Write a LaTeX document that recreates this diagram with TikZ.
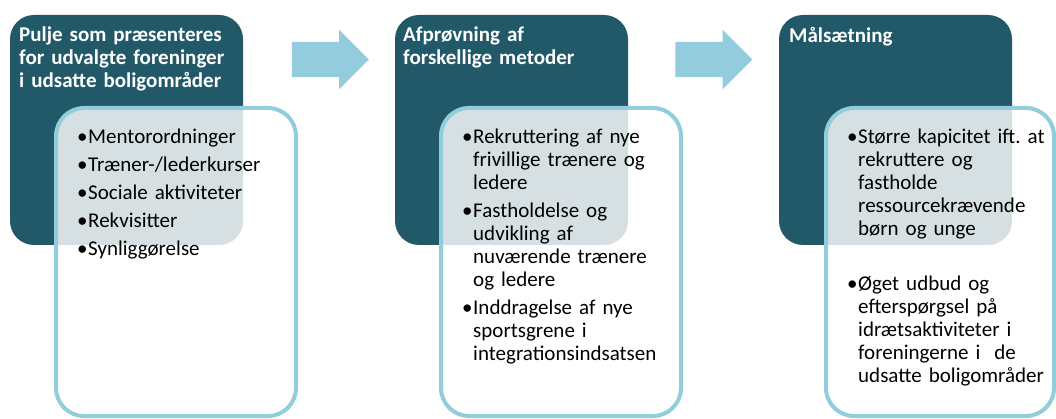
\documentclass[tikz,border=0pt]{standalone}
\usepackage{fontspec}
\setmainfont{Carlito}
\usepackage{tikz}
\usetikzlibrary{shapes.arrows, positioning}
\definecolor{headteal}{RGB}{33,89,104}
\definecolor{listblue}{RGB}{146,205,220}
\definecolor{arrowblue}{RGB}{147,205,221}
\definecolor{overlapgray}{RGB}{214,224,227}

% bullet item with hanging indent
\newcommand{\bitem}[1]{\hangindent=12pt\hangafter=1\noindent\makebox[12pt][l]{\hspace{1pt}•}#1\par}

\begin{document}
\begin{tikzpicture}[
  x=1pt, y=-1pt,
  headbox/.style={rectangle, rounded corners=24pt, fill=headteal,
                  minimum width=233pt, minimum height=230pt, inner sep=0pt, outer sep=0pt},
  listbox/.style={rectangle, rounded corners=28pt, fill=white, draw=listblue, line width=4pt,
                  minimum width=240pt, minimum height=308pt, inner sep=0pt, outer sep=0pt,
                  anchor=north west},
  overlap/.style={path picture={\fill[overlapgray, rounded corners=24pt]
                  (#1.north west) rectangle (#1.south east);}},
  headtitle/.style={anchor=north west, text width=228pt, align=left, inner sep=0pt,
                    text=white, font=\fontsize{21}{23}\selectfont\bfseries},
  listtext/.style={anchor=north west, text width=214pt, align=left, inner sep=0pt,
                   font=\fontsize{21}{23}\selectfont\frenchspacing,
                   execute at begin node={\setlength{\parskip}{5pt}}},
  stagearrow/.style={single arrow, fill=arrowblue, minimum height=77pt,
                     inner xsep=0pt, inner ysep=17.5pt,
                     single arrow head extend=12pt, single arrow tip angle=90}
]
\useasboundingbox (0,0) rectangle (1056,419);

%--- Stage headers ---%
\node[headbox] (head1) at (126.5,130) {};
\node[headbox, right=152pt of head1] (head2) {};
\node[headbox, right=151pt of head2] (head3) {};

%--- Arrows between stages ---%
\node[stagearrow] (arrow1) at (321.5,59.5) {};
\node[stagearrow] (arrow2) at (705,59.5) {};

%--- Item boxes ---%
\node[listbox, overlap=head1] (list1) at ([shift={(46pt,-93pt)}]head1.north west) {};
\node[listbox, overlap=head2] (list2) at ([shift={(46pt,-93pt)}]head2.north west) {};
\node[listbox, overlap=head3, minimum width=228pt] (list3) at ([shift={(47pt,-93pt)}]head3.north west) {};

%--- Titles ---%
\node[headtitle] (title1) at ([shift={(9pt,-12pt)}]head1.north west)
  {Pulje som præsenteres\\for udvalgte foreninger\\i udsatte boligområder};
\node[headtitle] (title2) at ([shift={(8pt,-12pt)}]head2.north west)
  {Afprøvning af\\forskellige metoder};
\node[headtitle] (title3) at ([shift={(10pt,-12pt)}]head3.north west)
  {Målsætning};

%--- Items ---%
\node[listtext] (items1) at ([shift={(20pt,-21pt)}]list1.north west)
  {\bitem{Mentorordninger}
   \bitem{Træner-/lederkurser}
   \bitem{Sociale aktiviteter}
   \bitem{Rekvisitter}
   \bitem{Synliggørelse}};
\node[listtext] (items2) at ([shift={(20pt,-21pt)}]list2.north west)
  {\bitem{Rekruttering af nye\newline frivillige trænere og\newline ledere}
   \bitem{Fastholdelse og\newline udvikling af\newline nuværende trænere\newline og ledere}
   \bitem{Inddragelse af nye\newline sportsgrene i\newline integrationsindsatsen}};
\node[listtext] (items3) at ([shift={(20pt,-21pt)}]list3.north west)
  {\bitem{Større kapicitet ift. at\newline rekruttere og\newline fastholde\newline ressourcekrævende\newline børn og unge}
   \vspace{27pt}
   \bitem{Øget udbud og\newline efterspørgsel på\newline idrætsaktiviteter i\newline foreningerne i~ de\newline udsatte boligområder}};

\end{tikzpicture}
\end{document}
